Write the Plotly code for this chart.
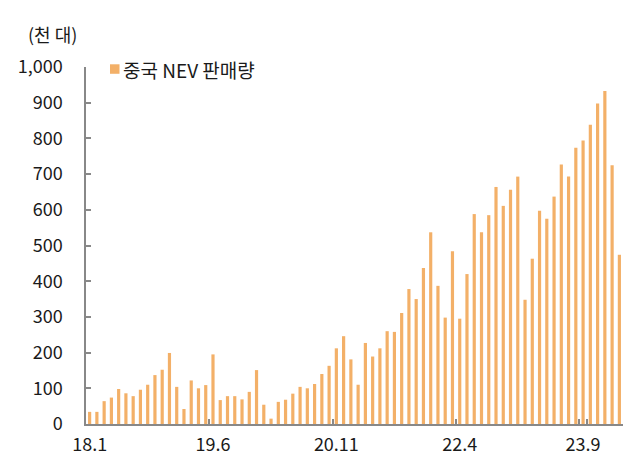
import plotly.graph_objects as go

months = [f"{y}.{m}" for y in range(18, 25) for m in range(1, 13)][:74]

sales = [34, 34, 64, 74, 98, 86, 78, 96, 110, 137, 152, 199,
         104, 42, 122, 100, 109, 195, 67, 78, 78, 69, 90, 151,
         54, 15, 62, 68, 85, 104, 100, 112, 140, 163, 212, 246,
         181, 110, 227, 189, 212, 260, 258, 311, 378, 350, 437, 537,
         387, 298, 484, 295, 420, 588, 537, 585, 664, 611, 656, 693,
         348, 463, 597, 575, 637, 727, 693, 774, 794, 838, 898, 933,
         725, 474]

x_ticks = ["18.1", "19.6", "20.11", "22.4", "23.9"]
y_ticks = [0, 100, 200, 300, 400, 500, 600, 700, 800, 900, 1000]

FONT = "Noto Sans CJK KR"
BAR_COLOR = "#F3B068"
fig = go.Figure()
fig.add_trace(go.Bar(x=months, y=sales, name="중국 NEV 판매량",
                     marker=dict(color=BAR_COLOR, line=dict(width=0)),
                     showlegend=False))

# page has an 8px body margin, so the figure is sized to fit inside it
fig.update_layout(
    width=624, height=449,
    margin=dict(l=78, r=9, t=59, b=33),
    paper_bgcolor="white", plot_bgcolor="white",
    font=dict(family=FONT, size=18, color="#1a1a1a"),
    bargap=0.56,
    annotations=[
        dict(text="(천 대)", xref="paper", yref="paper",
             x=-0.112, y=1.092, xanchor="left", yanchor="middle",
             showarrow=False, font=dict(size=18, family=FONT)),
        dict(text="중국 NEV 판매량", xref="paper", yref="paper",
             x=0.066, y=0.994, xanchor="left", yanchor="middle",
             showarrow=False, font=dict(size=19, family=FONT)),
    ],
    shapes=[dict(type="rect", xref="paper", yref="paper",
                 x0=0.0447, x1=0.0624, y0=0.981, y1=1.0076,
                 fillcolor=BAR_COLOR, line=dict(width=0))],
)
fig.update_xaxes(
    type="category", tickmode="array", tickvals=x_ticks, ticktext=x_ticks,
    tickson="boundaries", ticks="inside", ticklen=5, tickcolor="#888888",
    tickwidth=1.5, showline=True, linecolor="#888888", linewidth=2,
    showgrid=False, range=[-0.5, 73.5], tickangle=0, automargin=False,
    ticklabelstandoff=3, tickfont=dict(size=18, family=FONT),
)
fig.update_yaxes(
    range=[0, 1000], tickmode="array", tickvals=y_ticks, tickformat=",",
    ticks="inside", ticklen=5, tickcolor="#888888", tickwidth=1.5,
    showline=True, linecolor="#888888", linewidth=1.5, showgrid=False,
    zeroline=False, ticklabelstandoff=18, automargin=False,
    tickfont=dict(size=18, family=FONT),
)

fig.write_html("out.html")
